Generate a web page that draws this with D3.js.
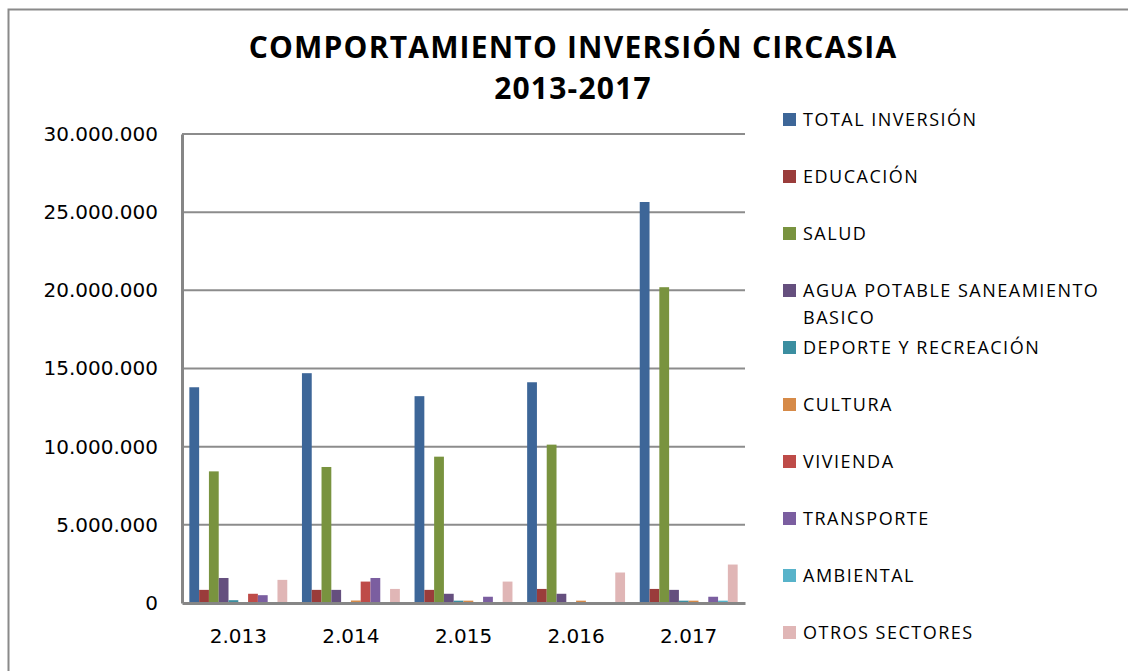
<!DOCTYPE html>
<html>
<head>
<meta charset="utf-8">
<script src="https://cdn.jsdelivr.net/npm/d3@7"></script>
<style>
    body { margin: 0; background: #ffffff; }
    svg { display: block; }
</style>
</head>
<body>
<div class="canva"></div>
<script>
// data
const years = ["2.013", "2.014", "2.015", "2.016", "2.017"];
const seriesNames = ["TOTAL INVERSIÓN", "EDUCACIÓN", "SALUD", "AGUA POTABLE SANEAMIENTO BASICO",
                     "DEPORTE Y RECREACIÓN", "CULTURA", "VIVIENDA", "TRANSPORTE", "AMBIENTAL", "OTROS SECTORES"];
const totalInversion = [13800000, 14700000, 13230000, 14120000, 25650000];
const educacion      = [  840000,   840000,   840000,   900000,   900000];
const salud          = [ 8420000,  8700000,  9360000, 10130000, 20200000];
const aguaPotable    = [ 1600000,   840000,   590000,   590000,   840000];
const deporte        = [  180000,    30000,   150000,    30000,   150000];
const cultura        = [   50000,   160000,   150000,   150000,   150000];
const vivienda       = [  590000,  1370000,    50000,    50000,        0];
const transporte     = [  500000,  1600000,   400000,    50000,   400000];
const ambiental      = [   50000,    20000,        0,        0,   150000];
const otrosSectores  = [ 1480000,   900000,  1370000,  1950000,  2460000];
const yTicks = [0, 5000000, 10000000, 15000000, 20000000, 25000000, 30000000];

const seriesValues = [totalInversion, educacion, salud, aguaPotable, deporte,
                      cultura, vivienda, transporte, ambiental, otrosSectores];
const COLORS = ["#3d6698", "#9a3c3b", "#79933f", "#654f7e", "#3b8ea0",
                "#d68a48", "#be4b48", "#7b5ea0", "#58b3ca", "#e0b6b6"];

const WIDTH = 1128;
const HEIGHT = 671;
const PLOT = { LEFT: 182, RIGHT: 745, TOP: 134, BOTTOM: 603 };

const svg = d3.select(".canva").append("svg")
                .attr("width", WIDTH)
                .attr("height", HEIGHT);

// outer chart border (runs off the right and bottom)
svg.append("rect")
    .attr("x", 8.5)
    .attr("y", 9.5)
    .attr("width", 1140)
    .attr("height", 700)
    .attr("fill", "#ffffff")
    .attr("stroke", "#8a8a8a")
    .attr("stroke-width", 2);

// title
const title = svg.append("g")
                .attr("text-anchor", "middle")
                .attr("font-family", "'Open Sans', sans-serif")
                .attr("font-weight", "bold")
                .attr("font-size", 30)
                .attr("letter-spacing", 1.2)
                .attr("fill", "#000");
title.append("text").attr("x", 573).attr("y", 58).text("COMPORTAMIENTO INVERSIÓN CIRCASIA");
title.append("text").attr("x", 573).attr("y", 99).text("2013-2017");

const x0 = d3.scaleBand()
                .domain(years)
                .range([PLOT.LEFT, PLOT.RIGHT]);

const x1 = d3.scaleBand()
                .domain(seriesNames)
                .range([0, x0.bandwidth()])
                .paddingOuter(0.75);

const y = d3.scaleLinear()
                .domain([0, 30000000])
                .range([PLOT.BOTTOM, PLOT.TOP]);

const fmt = d3.formatLocale({ decimal: ",", thousands: ".", grouping: [3], currency: ["", ""] }).format(",d");

// gridlines
svg.append("g")
    .selectAll("line")
    .data(yTicks.filter(d => d > 0))
    .enter()
    .append("line")
    .attr("x1", PLOT.LEFT)
    .attr("x2", PLOT.RIGHT)
    .attr("y1", d => y(d))
    .attr("y2", d => y(d))
    .attr("stroke", "#8c8c8c")
    .attr("stroke-width", 2);

// y axis
const yAxis = svg.append("g")
                .attr("transform", `translate(${PLOT.LEFT},0)`)
                .call(d3.axisLeft(y).tickValues(yTicks).tickFormat(fmt).tickSize(0).tickPadding(24));
yAxis.select(".domain").attr("stroke", "#868686").attr("stroke-width", 3);
yAxis.selectAll("text")
    .attr("font-family", "'DejaVu Sans', sans-serif")
    .attr("font-size", 20)
    .attr("fill", "#000");

// bars
const table = years.map((yr, i) => ({ year: yr, values: seriesNames.map((s, j) => ({ key: s, value: seriesValues[j][i], color: COLORS[j] })) }));

svg.append("g")
    .selectAll("g")
    .data(table)
    .enter()
    .append("g")
    .attr("transform", d => `translate(${x0(d.year)},0)`)
    .selectAll("rect")
    .data(d => d.values)
    .enter()
    .append("rect")
    .attr("x", d => x1(d.key))
    .attr("width", x1.bandwidth())
    .attr("y", d => y(d.value))
    .attr("height", d => y(0) - y(d.value))
    .attr("fill", d => d.color);

// x axis
const xAxis = svg.append("g")
                .attr("transform", `translate(0,${PLOT.BOTTOM})`)
                .call(d3.axisBottom(x0).tickSize(0).tickPadding(26));
xAxis.select(".domain").attr("stroke", "#868686").attr("stroke-width", 3);
xAxis.selectAll("text")
    .attr("font-family", "'DejaVu Sans', sans-serif")
    .attr("font-size", 20)
    .attr("fill", "#000");

// legend
const legendRows = [120, 177, 234, 291, 348, 405, 462, 519, 576, 633];
const legend = svg.append("g")
                .selectAll("g")
                .data(seriesNames)
                .enter()
                .append("g")
                .attr("transform", (d, i) => `translate(783,${legendRows[i]})`);

legend.append("rect")
    .attr("x", 0)
    .attr("y", -7)
    .attr("width", 13)
    .attr("height", 13)
    .attr("fill", (d, i) => COLORS[i]);

legend.append("text")
    .attr("font-family", "'Open Sans', sans-serif")
    .attr("font-size", 18)
    .attr("letter-spacing", 1.5)
    .attr("fill", "#000")
    .each(function (d) {
        const t = d3.select(this);
        const lines = d === "AGUA POTABLE SANEAMIENTO BASICO" ? ["AGUA POTABLE SANEAMIENTO", "BASICO"] : [d];
        lines.forEach((ln, k) => {
            t.append("tspan").attr("x", 20).attr("y", 6 + k * 27).text(ln);
        });
    });
</script>
</body>
</html>
